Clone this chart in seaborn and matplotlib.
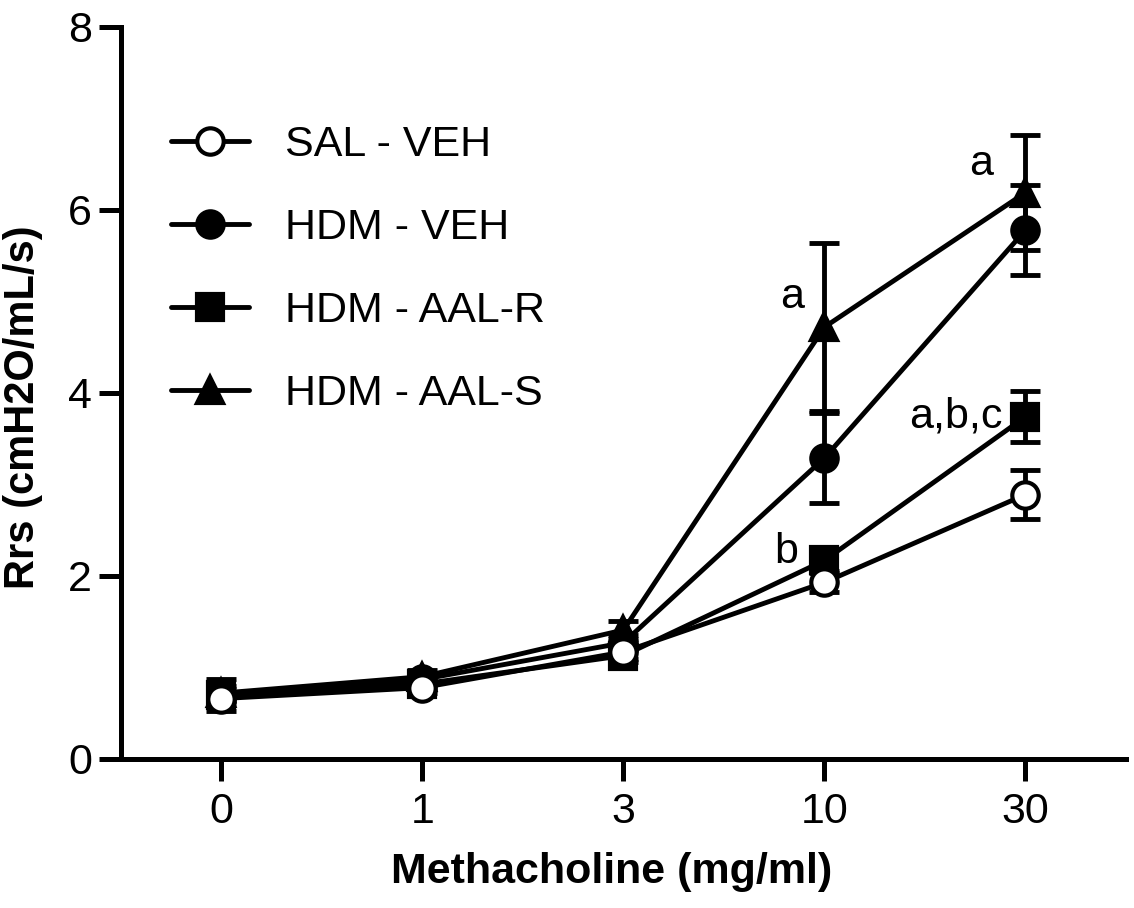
import numpy as np
import pandas as pd
import matplotlib
matplotlib.use('Agg')
import matplotlib.pyplot as plt
import seaborn as sns

# methacholine doses and group means / SEM
doses = ['0', '1', '3', '10', '30']
groups = ['SAL - VEH', 'HDM - VEH', 'HDM - AAL-R', 'HDM - AAL-S']
sal_veh = [0.66, 0.78, 1.17, 1.93, 2.89]
sal_veh_err = [0.06, 0.06, 0.08, 0.10, 0.27]
hdm_veh = [0.70, 0.87, 1.27, 3.29, 5.78]
hdm_veh_err = [0.07, 0.06, 0.08, 0.49, 0.49]
hdm_aalr = [0.70, 0.82, 1.13, 2.17, 3.74]
hdm_aalr_err = [0.17, 0.06, 0.07, 0.12, 0.28]
hdm_aals = [0.72, 0.90, 1.41, 4.72, 6.19]
hdm_aals_err = [0.08, 0.07, 0.10, 0.92, 0.63]

means = [sal_veh, hdm_veh, hdm_aalr, hdm_aals]
errs = [sal_veh_err, hdm_veh_err, hdm_aalr_err, hdm_aals_err]
markers = ['o', 'o', 's', '^']
faces = ['white', 'black', 'black', 'black']
layer = [10, 6, 4, 8]  # open circles on top

sns.set_style('ticks')
plt.rcParams['font.family'] = ['Liberation Sans', 'DejaVu Sans']
plt.rcParams['text.color'] = 'black'
plt.rcParams['axes.labelcolor'] = 'black'
plt.rcParams['xtick.color'] = 'black'
plt.rcParams['ytick.color'] = 'black'

fig = plt.figure(figsize=(11.34, 9.08), dpi=100)
ax = fig.add_axes([0.1067, 0.1641, 0.8862, 0.8062])

pos = np.arange(len(doses))
for i in range(len(groups)):
    df = pd.DataFrame({'x': pos, 'y': means[i]})
    ax.errorbar(pos, means[i], yerr=errs[i], fmt='none', ecolor='black',
                elinewidth=3.5, capsize=11, capthick=3.5, zorder=layer[i] - 1)
    sns.lineplot(data=df, x='x', y='y', ax=ax, color='black', linewidth=3.5,
                 marker=markers[i], markersize=19, markerfacecolor=faces[i],
                 markeredgecolor='black', markeredgewidth=3.0,
                 label=groups[i], zorder=layer[i])

handles, labels = ax.get_legend_handles_labels()
ax.legend(handles, labels,
          loc='upper left', bbox_to_anchor=(0.05, 0.866), frameon=False,
          fontsize=31, handlelength=1.8, handletextpad=0.85,
          labelspacing=1.0, borderpad=0, borderaxespad=0)

# significance letters
ax.text(2.84, 5.05, 'a', fontsize=31, ha='center', va='center')
ax.text(3.78, 6.5, 'a', fontsize=31, ha='center', va='center')
ax.text(3.885, 3.74, 'a,b,c', fontsize=31, ha='right', va='center')
ax.text(2.81, 2.26, 'b', fontsize=31, ha='center', va='center')

ax.set_xlim(-0.5, 4.5)
ax.set_ylim(0, 8)
ax.set_xticks(pos)
ax.set_xticklabels(doses)
ax.set_yticks([0, 2, 4, 6, 8])
ax.tick_params(axis='both', direction='out', length=16, width=3.6,
               labelsize=31, color='black')
ax.tick_params(axis='x', pad=8)
ax.tick_params(axis='y', pad=5)
for side in ['left', 'bottom']:
    ax.spines[side].set_linewidth(3.6)
    ax.spines[side].set_color('black')
sns.despine(ax=ax)

ax.set_xlabel('Methacholine (mg/ml)', fontsize=31, fontweight='bold')
ax.set_ylabel('Rrs (cmH2O/mL/s)', fontsize=30, fontweight='bold')
ax.xaxis.set_label_coords(0.4886, -0.127)
ax.yaxis.set_label_coords(-0.078, 0.48)

fig.savefig('out.png', dpi=100)
